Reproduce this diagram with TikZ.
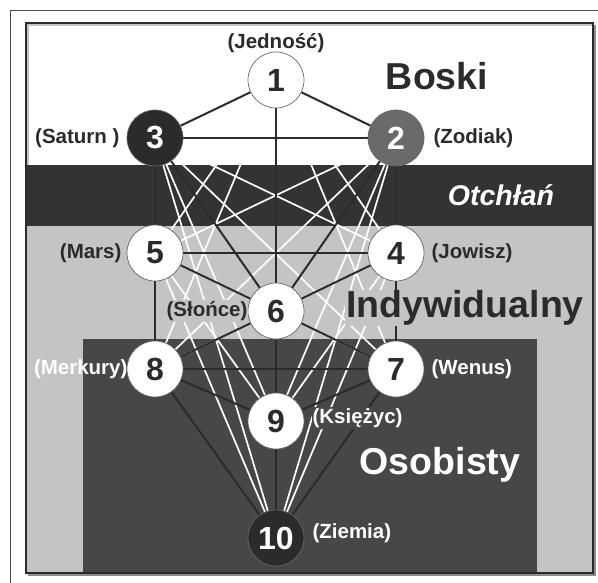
\documentclass[tikz,border=0pt]{standalone}
\usepackage{fontspec}
\setmainfont{Liberation Sans}
\usepackage{xcolor}
\usepackage{tikz}
\usetikzlibrary{positioning}

\definecolor{ink}{HTML}{2B2B2B}
\definecolor{abyss}{HTML}{333333}
\definecolor{midgray}{HTML}{C4C4C4}
\definecolor{lowgray}{HTML}{474747}
\definecolor{zodiak}{HTML}{6A6A6A}

\pgfdeclarelayer{back}
\pgfdeclarelayer{paths}
\pgfsetlayers{back,paths,main}

\begin{document}
\begin{tikzpicture}[
    x=1pt, y=-1pt,
    sefira/.style={circle, draw=black!60, line width=0.7pt, fill=white,
                   minimum size=56pt, inner sep=0pt, text=ink,
                   font=\fontsize{32}{32}\selectfont\bfseries},
    planet/.style={inner sep=1pt, text=ink,
                   font=\fontsize{20.5}{20.5}\selectfont\bfseries},
    realm/.style={inner sep=1pt, text=ink,
                  font=\fontsize{37.5}{37.5}\selectfont\bfseries},
    link/.style={draw=ink, line width=2pt},
    ghost/.style={draw=white, line width=1.7pt}
]
\useasboundingbox (0,0) rectangle (598,583);

\node[sefira] (n1) at (276,80) {1};
\node[sefira, fill=ink, text=white] (n3) at (155,138) {3};
\node[sefira, fill=zodiak, text=white] (n2) at (396,138) {2};
\node[sefira] (n5) at (155,253) {5};
\node[sefira] (n4) at (396,253) {4};
\node[sefira] (n6) at (276,311) {6};
\node[sefira] (n8) at (155,369) {8};
\node[sefira] (n7) at (396,369) {7};
\node[sefira] (n9) at (276,421) {9};
\node[sefira, fill=ink, text=white] (n10) at (276,538) {10};

\begin{pgfonlayer}{back}
\draw[black!70, line width=0.8pt] (10,583) -- (10,10) -- (598,10);
\fill[black!45] (28,25) rectangle (596,576);
\filldraw[fill=midgray, draw=ink, line width=1.2pt] (26,23) rectangle (593,573);
\fill[white] (29,26) rectangle (592,165);
\fill[abyss] (27,165) rectangle (592.4,226);
\fill[lowgray] (83,339) rectangle (537,572.4);
\end{pgfonlayer}

\begin{pgfonlayer}{paths}
\foreach \a/\b in {1/4,1/5,1/7,1/8,1/9,1/10,2/5,2/7,2/8,2/9,2/10,
                   3/4,3/7,3/8,3/9,3/10,4/8,4/9,4/10,5/7,5/9,5/10,6/10}
  \draw[ghost] (n\a) -- (n\b);
\foreach \a/\b in {1/2,1/3,1/6,2/3,2/4,2/6,3/5,3/6,4/5,4/6,4/7,
                   5/6,5/8,6/7,6/8,6/9,7/8,7/9,7/10,8/9,8/10,9/10}
  \draw[link] (n\a) -- (n\b);
\end{pgfonlayer}

\node[planet, above=-2pt of n1] (l1) {(Jedność)};
\node[planet, left=6pt of n3]  (l3) {(Saturn )};
\node[planet, right=8pt of n2] (l2) {(Zodiak)};
\node[planet, left=4pt of n5]  (l5) {(Mars)};
\node[planet, right=6pt of n4] (l4) {(Jowisz)};
\node[planet, left=-1pt of n6, fill=midgray] (l6) {(Słońce)};
\node[planet, left=-2pt of n8, text=white] (l8) {(Merkury)};
\node[planet, right=6pt of n7, text=white] (l7) {(Wenus)};
\node[planet, right=7pt of n9, yshift=3pt, fill=lowgray, text=white] (l9) {(Księżyc)};
\node[planet, right=7pt of n10, yshift=5pt, text=white] (l10) {(Ziemia)};

\node[realm] (boski) at (437,76) {Boski};
\node[realm, text=white, font=\fontsize{28.5}{28.5}\selectfont\bfseries\itshape]
  (otchlan) at (501,195) {Otchłań};
\node[realm, fill=midgray] (indyw) at (465,308) {Indywidualny};
\node[realm, text=white] (osob) at (440,465) {Osobisty};

\end{tikzpicture}
\end{document}
